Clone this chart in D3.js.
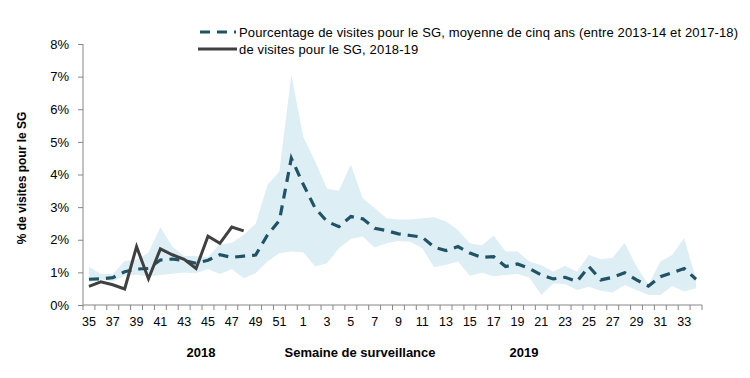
<!DOCTYPE html>
<html><head><meta charset="utf-8">
<script src="https://cdn.jsdelivr.net/npm/d3@7"></script>
<style>body{margin:0;background:#fff}svg{display:block}text{font-family:"Liberation Sans",Arial,sans-serif}</style>
</head><body><svg id="c" width="750" height="378"></svg>
<script>
const weeks = ["35","36","37","38","39","40","41","42","43","44","45","46","47","48","49","50","51","52",
  "1","2","3","4","5","6","7","8","9","10","11","12","13","14","15","16","17","18","19","20","21","22","23","24","25","26","27","28","29","30","31","32","33","34"];
const meanPct = [0.79,0.80,0.84,1.02,1.10,1.12,1.38,1.41,1.36,1.28,1.37,1.54,1.46,1.50,1.53,2.15,2.59,4.50,
  3.70,2.97,2.56,2.40,2.71,2.64,2.35,2.28,2.18,2.13,2.08,1.77,1.67,1.79,1.59,1.46,1.48,1.18,1.26,1.12,0.92,0.80,0.85,0.72,1.18,0.77,0.85,0.99,0.77,0.58,0.87,0.99,1.12,0.79];
const upperPct = [1.17,0.95,0.95,1.35,1.39,1.60,2.38,1.79,1.50,1.50,1.47,1.86,1.90,2.15,2.48,3.68,4.09,7.06,
  5.16,4.40,3.56,3.50,4.31,3.27,2.97,2.66,2.62,2.62,2.66,2.69,2.56,2.30,1.89,1.82,2.12,1.64,1.64,1.33,1.22,1.02,1.20,1.02,1.53,1.40,1.45,1.90,1.18,0.62,1.33,1.53,2.05,0.80];
const lowerPct = [0.70,0.78,0.72,0.90,0.93,0.88,0.92,0.96,1.00,0.97,1.10,0.95,1.10,0.82,0.97,1.33,1.59,1.64,
  1.62,1.18,1.28,1.74,2.02,2.10,1.76,1.89,1.96,1.94,1.74,1.16,1.23,1.33,0.90,0.99,0.88,0.92,0.95,0.84,0.31,0.66,0.64,0.46,0.56,0.44,0.38,0.61,0.46,0.31,0.31,0.58,0.41,0.51];
const currentPct = [0.57,0.71,0.62,0.49,1.79,0.80,1.72,1.54,1.40,1.12,2.11,1.89,2.39,2.27];
const yTicks = [0,1,2,3,4,5,6,7,8];
const legendLabels = ["Pourcentage de visites pour le SG, moyenne de cinq ans (entre 2013-14 et 2017-18)","de visites pour le SG, 2018-19"];
const yTitle = "% de visites pour le SG";
const xTitle = "Semaine de surveillance";
const yearLabels = ["2018","2019"];

const svg = d3.select("#c");
const x = d3.scaleBand().domain(weeks).range([83, 702]).paddingInner(0).paddingOuter(0);
const y = d3.scaleLinear().domain([0, 8]).range([305, 44]);
const cx = w => x(w) + x.bandwidth()/2;

// band
const area = d3.area().x((d,i)=>cx(weeks[i])).y0((d,i)=>y(lowerPct[i])).y1(d=>y(d));
svg.append("path").datum(upperPct).attr("d", area).attr("fill", "#DDEEF5");

// axes
const gray = "#868686";
const yAx = svg.append("g").attr("transform","translate(83,0)")
  .call(d3.axisLeft(y).tickValues(yTicks).tickSize(5).tickPadding(9).tickFormat(d=>d+"%"));
yAx.select(".domain").attr("stroke", gray).attr("d","M0,44V305");
yAx.selectAll(".tick line").attr("stroke", gray);
yAx.selectAll("text").attr("font-size","13px").attr("fill","#000").attr("font-family",'"Liberation Sans",Arial,sans-serif');

const xAx = svg.append("g").attr("transform","translate(0,305)")
  .call(d3.axisBottom(x).tickSize(0).tickPadding(12).tickFormat((d,i)=> i%2===0 ? d : ""));
xAx.select(".domain").attr("stroke", gray).attr("d","M83,0H702");
xAx.selectAll("text").attr("font-size","12.5px").attr("fill","#000").attr("font-family",'"Liberation Sans",Arial,sans-serif');
// boundary ticks
const bounds = weeks.map(w=>x(w)).concat([x.range()[1]]);
svg.append("g").selectAll("line").data(bounds).join("line")
  .attr("x1",d=>d).attr("x2",d=>d).attr("y1",305).attr("y2",310).attr("stroke",gray);

// mean line
const line = d3.line().x((d,i)=>cx(weeks[i])).y(d=>y(d));
svg.append("path").datum(meanPct).attr("d", line).attr("fill","none")
  .attr("stroke","#1F5365").attr("stroke-width",3.2).attr("stroke-dasharray","10,7");
// current line
svg.append("path").datum(currentPct).attr("d", line).attr("fill","none")
  .attr("stroke","#404040").attr("stroke-width",3).attr("stroke-linejoin","miter");

// legend
const lg = svg.append("g");
lg.append("line").attr("x1",199).attr("x2",236).attr("y1",32).attr("y2",32)
  .attr("stroke","#1F5365").attr("stroke-width",3.2).attr("stroke-dasharray","10,7").attr("stroke-dashoffset",-1);
lg.append("line").attr("x1",198).attr("x2",237).attr("y1",49).attr("y2",49)
  .attr("stroke","#404040").attr("stroke-width",3);
lg.append("text").attr("x",239).attr("y",37).attr("font-size","13px").attr("letter-spacing","0.15px").text(legendLabels[0]);
lg.append("text").attr("x",239).attr("y",54).attr("font-size","13px").attr("letter-spacing","0.15px").text(legendLabels[1]);

// titles
svg.append("text").attr("transform","translate(26,178) rotate(-90)").attr("text-anchor","middle")
  .attr("font-size","12px").attr("font-weight","bold").text(yTitle);
svg.append("text").attr("x",360).attr("y",357).attr("text-anchor","middle")
  .attr("font-size","13px").attr("font-weight","bold").text(xTitle);
svg.append("text").attr("x",201).attr("y",357).attr("text-anchor","middle")
  .attr("font-size","13px").attr("font-weight","bold").text(yearLabels[0]);
svg.append("text").attr("x",524).attr("y",357).attr("text-anchor","middle")
  .attr("font-size","13px").attr("font-weight","bold").text(yearLabels[1]);
</script></body></html>
